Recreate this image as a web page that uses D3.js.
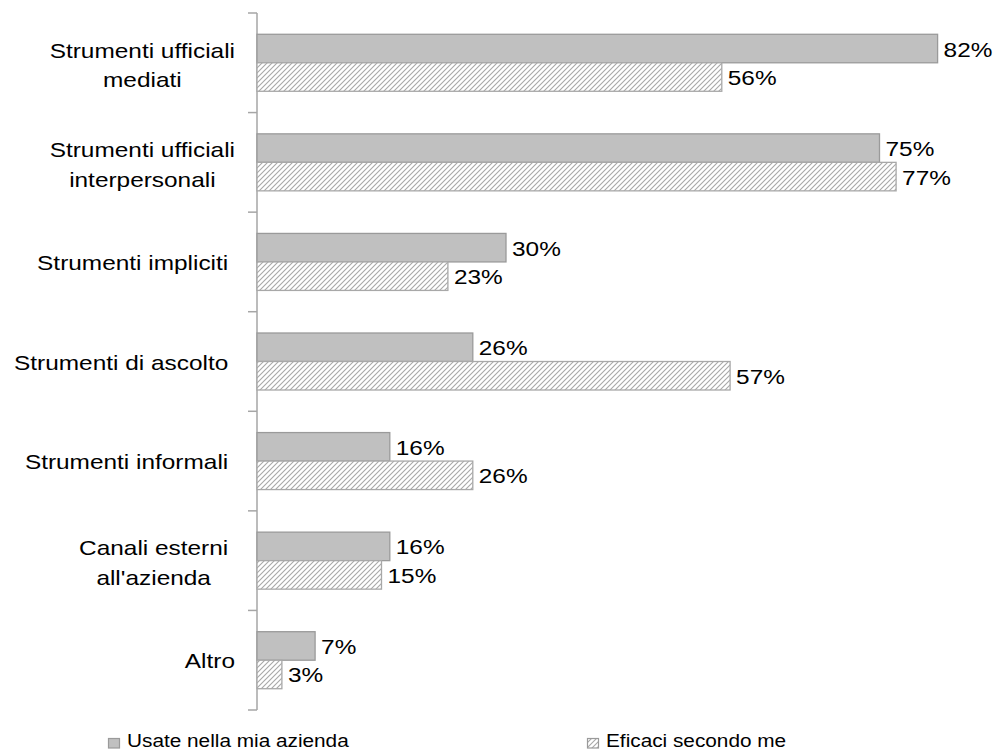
<!DOCTYPE html>
<html><head><meta charset="utf-8">
<script src="https://cdn.jsdelivr.net/npm/d3@7/dist/d3.min.js"></script>
<style>body{margin:0;background:#fff}svg{display:block}text{font-family:"Liberation Sans",Arial,sans-serif;fill:#000}</style>
</head><body><svg id="c" width="1006" height="751"></svg>
<script>
const categories = ["Strumenti ufficiali\nmediati", "Strumenti ufficiali\ninterpersonali", "Strumenti impliciti ", "Strumenti di ascolto ", "Strumenti informali ", "Canali esterni \nall'azienda ", "Altro"];
const usate = [82, 75, 30, 26, 16, 16, 7];
const efficaci = [56, 77, 23, 57, 26, 15, 3];
const seriesNames = ["Usate nella mia azienda", "Eficaci secondo me"];

const SY = 0.86; // vertical squash of the reference text
const svg = d3.select("#c");
const defs = svg.append("defs");
const pat = defs.append("pattern").attr("id","hatch").attr("patternUnits","userSpaceOnUse")
  .attr("width",5).attr("height",5);
pat.append("rect").attr("width",5).attr("height",5).attr("fill","#fff");
pat.append("path").attr("d","M-1,1 l2,-2 M0,5 l5,-5 M4,6 l2,-2").attr("stroke","#a8a8a8").attr("stroke-width",1.1);

const x0 = 257;
const x = d3.scaleLinear().domain([0,100]).range([x0, x0+830]);
const y = d3.scaleBand().domain(d3.range(categories.length)).range([13, 710]).paddingInner(0).paddingOuter(0);
const bw = 28.5;

// axis
const axisG = svg.append("g").attr("transform",`translate(${x0},0)`);
axisG.append("line").attr("x1",0).attr("x2",0).attr("y1",13).attr("y2",710).attr("stroke","#a6a6a6").attr("stroke-width",1.5);
const ticks = d3.range(categories.length+1).map(i => 13 + i*y.step());
axisG.selectAll("line.t").data(ticks).join("line").attr("class","t")
  .attr("x1",-9).attr("x2",0).attr("y1",d=>d).attr("y2",d=>d).attr("stroke","#a6a6a6").attr("stroke-width",1.5);

function sText(g, tx, ty, str, size, anchor){
  const gg = g.append("g").attr("transform",`translate(${tx},${ty}) scale(1,${SY})`);
  return gg.append("text").attr("x",0).attr("y",0).attr("font-size",size).attr("text-anchor",anchor||"start").attr("xml:space","preserve").style("white-space","pre").text(str);
}

// bars
const bars = svg.append("g");
categories.forEach((c,i)=>{
  const cy = y(i) + y.bandwidth()/2;
  const vals = [usate[i], efficaci[i]];
  vals.forEach((v,k)=>{
    const top = cy - bw + k*bw;
    bars.append("rect").attr("x",x(0)).attr("y",top).attr("width",x(v)-x(0)).attr("height",bw)
      .attr("fill", k===0 ? "#c0c0c0" : "url(#hatch)")
      .attr("stroke", k===0 ? "#9a9a9a" : "#a8a8a8").attr("stroke-width",1.3);
    sText(bars, x(v)+6, top + bw/2 + 8, v+"%", 24.4);
  });
});

// category labels
const lab = svg.append("g");
const rightEdge = 235;
categories.forEach((c,i)=>{
  const cy = y(i) + y.bandwidth()/2;
  const lines = c.split("\n");
  const tmp = lab.append("g").attr("transform",`scale(1,${SY})`);
  const widths = lines.map(l=>{const t=tmp.append("text").attr("font-size",24.4).attr("xml:space","preserve").style("white-space","pre").text(l);return t.node().getComputedTextLength();});
  tmp.remove();
  const maxW = d3.max(widths);
  const center = rightEdge - maxW/2;
  const n = lines.length;
  lines.forEach((l,j)=>{
    const base = cy + 8 + (j-(n-1)/2)*29.4 + (n>1?1.5:0);
    sText(lab, center, base, l, 24.4, "middle");
  });
});

// legend
const leg = svg.append("g");
const legItems = [{x:108, tx:127}, {x:587, tx:606}];
legItems.forEach((li,k)=>{
  leg.append("rect").attr("x",li.x+0.5).attr("y",738.5).attr("width",11).attr("height",9.5)
    .attr("fill", k===0 ? "#c0c0c0" : "url(#hatch)").attr("stroke","#9a9a9a").attr("stroke-width",1.2);
  sText(leg, li.tx, 747, seriesNames[k], 20.8);
});
</script></body></html>
